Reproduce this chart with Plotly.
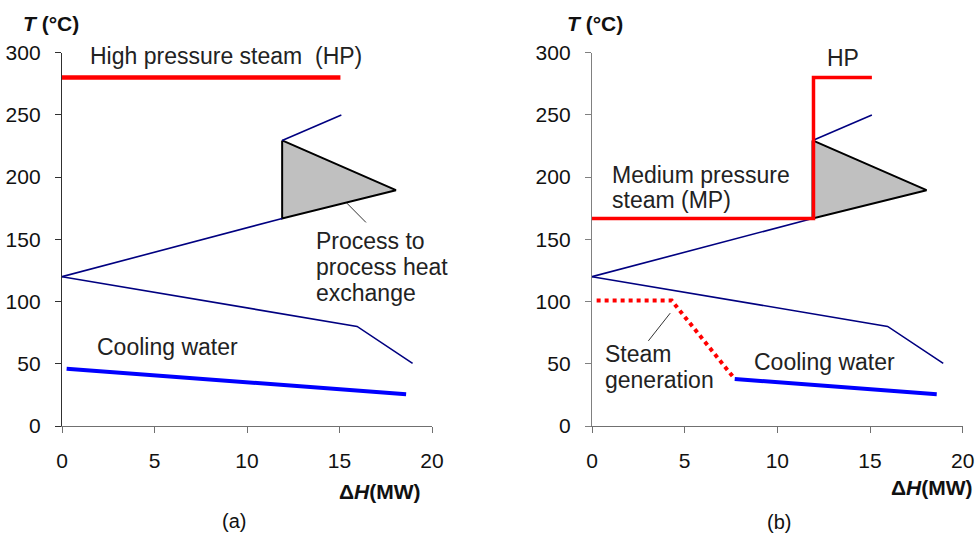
import plotly.graph_objects as go

# ---- data (dH in MW, T in degC) ----
hp_x = [0, 15.05]
hp_y = [280, 280]

cold_low_x = [0, 11.9]
cold_low_y = [120, 166.8]
cold_high_x = [11.9, 15.1]
cold_high_y = [229.5, 250]

hot_x = [0, 15.95, 18.95]
hot_y = [120, 80, 50.3]

tri_x = [11.9, 18.05, 11.9, 11.9]
tri_y = [229.5, 189.5, 166.8, 229.5]

cw_a_x = [0.25, 18.6]
cw_a_y = [46, 25.5]

mp_x = [0, 11.95, 11.95, 15.1]
mp_y = [166.8, 166.8, 280, 280]

sg_x = [0.25, 4.3, 7.7]
sg_y = [100.8, 100.8, 37.8]

cw_b_x = [7.7, 18.6]
cw_b_y = [37.8, 25.5]

lead_a_x = [15.39, 16.43]
lead_a_y = [179.2, 163.6]
lead_b_x = [4.22, 3.04]
lead_b_y = [90.7, 68.4]

x_ticks = [0, 5, 10, 15, 20]
y_ticks = [0, 50, 100, 150, 200, 250, 300]

FONT = "Liberation Sans, Arial, sans-serif"
NAVY = "#000080"
RED = "#FF0000"
BLUE = "#0000FF"
TXT = "#222222"

fig = go.Figure()

def line(x, y, color, width, ax, dash=None, fill=None, fillcolor=None):
    fig.add_trace(go.Scatter(
        x=x, y=y, mode="lines", xaxis=ax[0], yaxis=ax[1],
        line=dict(color=color, width=width, dash=dash),
        fill=fill, fillcolor=fillcolor, showlegend=False, hoverinfo="skip",
        cliponaxis=False))

for ax in [("x", "y"), ("x2", "y2")]:
    line(tri_x, tri_y, "#000000", 2, ax, fill="toself", fillcolor="#C0C0C0")
    line(cold_low_x, cold_low_y, NAVY, 1.6, ax)
    line(cold_high_x, cold_high_y, NAVY, 1.6, ax)
    line(hot_x, hot_y, NAVY, 1.6, ax)

# panel (a)
line(hp_x, hp_y, RED, 4.5, ("x", "y"))
line(cw_a_x, cw_a_y, BLUE, 4, ("x", "y"))
line(lead_a_x, lead_a_y, "#333333", 1, ("x", "y"))

# panel (b)
line(mp_x, mp_y, RED, 3.5, ("x2", "y2"))
line(sg_x, sg_y, RED, 4, ("x2", "y2"), dash="dot")
line(cw_b_x, cw_b_y, BLUE, 4, ("x2", "y2"))
line(lead_b_x, lead_b_y, "#333333", 1, ("x2", "y2"))

def ann(text, x, y, xref, yref, size=23, xanchor="left", yanchor="middle", color=TXT):
    fig.add_annotation(text=text, x=x, y=y, xref=xref, yref=yref, showarrow=False,
                       xanchor=xanchor, yanchor=yanchor,
                       font=dict(family=FONT, size=size, color=color))

# panel (a) labels
ann("High pressure steam\u00a0\u00a0(HP)", 1.4, 297.7, "x", "y")
ann("Process to", 13.6, 149, "x", "y")
ann("process heat", 13.6, 128, "x", "y")
ann("exchange", 13.6, 106.5, "x", "y")
ann("Cooling water", 1.8, 63.6, "x", "y")

# panel (b) labels
ann("HP", 13.55, 296, "x2", "y2", xanchor="center")
ann("Medium pressure", 0.97, 201.5, "x2", "y2")
ann("steam (MP)", 0.97, 181.5, "x2", "y2")
ann("Steam", 0.6, 57.9, "x2", "y2")
ann("generation", 0.6, 37, "x2", "y2")
ann("Cooling water", 8.65, 51.7, "x2", "y2")

# axis titles and panel letters (paper coords)
for x0 in [21 / 980, 565 / 980]:
    ann("<b><i>T</i> (°C)</b>", x0, (537 - 23) / 537, "paper", "paper", size=21, color="#111111")
ann("<b>Δ<i>H</i>(MW)</b>", 423 / 980, (537 - 491) / 537, "paper", "paper", size=21,
    xanchor="right", color="#111111")
ann("<b>Δ<i>H</i>(MW)</b>", 975 / 980, (537 - 487) / 537, "paper", "paper", size=21,
    xanchor="right", color="#111111")
ann("(a)", 234 / 980, (537 - 521) / 537, "paper", "paper", size=20, xanchor="center", color="#111111")
ann("(b)", 779 / 980, (537 - 522) / 537, "paper", "paper", size=20, xanchor="center", color="#111111")

ydom = [(537 - 426) / 537, (537 - 52.7) / 537]

def xaxis(domain, anchor):
    return dict(domain=domain, anchor=anchor, range=[0, 20], tickvals=x_ticks,
                showline=True, linecolor="#707070", linewidth=1.3, ticks="outside",
                ticklen=6, tickcolor="#707070", tickwidth=1.3, showgrid=False, zeroline=False,
                automargin=False,
                tickfont=dict(family=FONT, size=21, color="#111111"), ticklabelstandoff=10)

def yaxis(anchor, color):
    return dict(domain=ydom, anchor=anchor, range=[0, 300], tickvals=y_ticks,
                showline=True, linecolor=color, linewidth=1.3, ticks="outside",
                ticklen=6, tickcolor=color, tickwidth=1.3, showgrid=False, zeroline=False,
                automargin=False,
                tickfont=dict(family=FONT, size=21, color="#111111"), ticklabelstandoff=10)

fig.update_layout(
    width=980, height=537,
    margin=dict(l=0, r=0, t=0, b=0, autoexpand=False),
    paper_bgcolor="white", plot_bgcolor="white",
    xaxis=xaxis([62 / 980, 432 / 980], "y"),
    yaxis=yaxis("x", "#303030"),
    xaxis2=xaxis([592 / 980, 962.7 / 980], "y2"),
    yaxis2=yaxis("x2", "#808080"),
    showlegend=False,
)

fig.write_html("out.html", config={"displayModeBar": False},
               post_script="document.body.style.margin='0';document.body.style.overflow='hidden';")
